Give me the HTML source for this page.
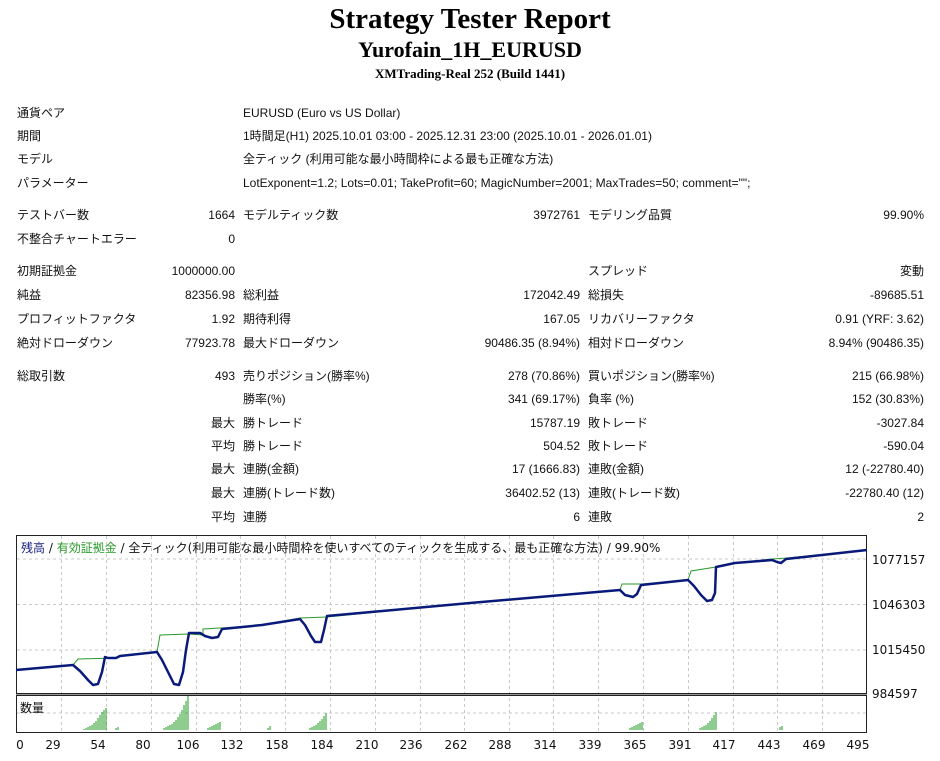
<!DOCTYPE html>
<html><head><meta charset="utf-8"><style>
html,body{margin:0;padding:0;background:#fff;width:940px;height:761px;overflow:hidden}
svg text{font-family:"Liberation Sans","Noto Sans CJK JP",sans-serif;font-size:12px;fill:#111}
.t{font-family:"Liberation Serif","Noto Serif CJK SC",serif;font-weight:bold;fill:#000}
.r{text-anchor:end}
.ax{font-family:"DejaVu Sans","Noto Sans CJK JP",sans-serif;font-size:12px}
</style></head><body>
<svg width="940" height="761" xmlns="http://www.w3.org/2000/svg">
<text class="t" x="470" y="28" text-anchor="middle" style="font-size:29px">Strategy Tester Report</text>
<text class="t" x="470" y="57" text-anchor="middle" style="font-size:22px">Yurofain_1H_EURUSD</text>
<text class="t" x="470" y="78" text-anchor="middle" style="font-size:13px">XMTrading-Real 252 (Build 1441)</text>

<g>
<text x="17" y="117">通貨ペア</text><text x="243" y="117">EURUSD (Euro vs US Dollar)</text>
<text x="17" y="140">期間</text><text x="243" y="140">1時間足(H1) 2025.10.01 03:00 - 2025.12.31 23:00 (2025.10.01 - 2026.01.01)</text>
<text x="17" y="163">モデル</text><text x="243" y="163">全ティック (利用可能な最小時間枠による最も正確な方法)</text>
<text x="17" y="187">パラメーター</text><text x="243" y="187">LotExponent=1.2; Lots=0.01; TakeProfit=60; MagicNumber=2001; MaxTrades=50; comment="";</text>

<text x="17" y="219">テストバー数</text><text class="r" x="235" y="219">1664</text><text x="243" y="219">モデルティック数</text><text class="r" x="580" y="219">3972761</text><text x="588" y="219">モデリング品質</text><text class="r" x="924" y="219">99.90%</text>
<text x="17" y="243">不整合チャートエラー</text><text class="r" x="235" y="243">0</text>

<text x="17" y="275">初期証拠金</text><text class="r" x="235" y="275">1000000.00</text><text x="588" y="275">スプレッド</text><text class="r" x="924" y="275">変動</text>
<text x="17" y="299">純益</text><text class="r" x="235" y="299">82356.98</text><text x="243" y="299">総利益</text><text class="r" x="580" y="299">172042.49</text><text x="588" y="299">総損失</text><text class="r" x="924" y="299">-89685.51</text>
<text x="17" y="323">プロフィットファクタ</text><text class="r" x="235" y="323">1.92</text><text x="243" y="323">期待利得</text><text class="r" x="580" y="323">167.05</text><text x="588" y="323">リカバリーファクタ</text><text class="r" x="924" y="323">0.91 (YRF: 3.62)</text>
<text x="17" y="347">絶対ドローダウン</text><text class="r" x="235" y="347">77923.78</text><text x="243" y="347">最大ドローダウン</text><text class="r" x="580" y="347">90486.35 (8.94%)</text><text x="588" y="347">相対ドローダウン</text><text class="r" x="924" y="347">8.94% (90486.35)</text>

<text x="17" y="380">総取引数</text><text class="r" x="235" y="380">493</text><text x="243" y="380">売りポジション(勝率%)</text><text class="r" x="580" y="380">278 (70.86%)</text><text x="588" y="380">買いポジション(勝率%)</text><text class="r" x="924" y="380">215 (66.98%)</text>
<text x="243" y="403">勝率(%)</text><text class="r" x="580" y="403">341 (69.17%)</text><text x="588" y="403">負率 (%)</text><text class="r" x="924" y="403">152 (30.83%)</text>
<text class="r" x="235" y="427">最大</text><text x="243" y="427">勝トレード</text><text class="r" x="580" y="427">15787.19</text><text x="588" y="427">敗トレード</text><text class="r" x="924" y="427">-3027.84</text>
<text class="r" x="235" y="450">平均</text><text x="243" y="450">勝トレード</text><text class="r" x="580" y="450">504.52</text><text x="588" y="450">敗トレード</text><text class="r" x="924" y="450">-590.04</text>
<text class="r" x="235" y="473">最大</text><text x="243" y="473">連勝(金額)</text><text class="r" x="580" y="473">17 (1666.83)</text><text x="588" y="473">連敗(金額)</text><text class="r" x="924" y="473">12 (-22780.40)</text>
<text class="r" x="235" y="497">最大</text><text x="243" y="497">連勝(トレード数)</text><text class="r" x="580" y="497">36402.52 (13)</text><text x="588" y="497">連敗(トレード数)</text><text class="r" x="924" y="497">-22780.40 (12)</text>
<text class="r" x="235" y="521">平均</text><text x="243" y="521">連勝</text><text class="r" x="580" y="521">6</text><text x="588" y="521">連敗</text><text class="r" x="924" y="521">2</text>
</g>

<!-- chart -->
<g stroke="#c8c8c8" stroke-dasharray="3,3" stroke-width="1">
<line x1="17" x2="866" y1="559" y2="559"/><line x1="17" x2="866" y1="604.5" y2="604.5"/><line x1="17" x2="866" y1="650" y2="650"/>
<line x1="17" x2="866" y1="713" y2="713"/>
<line x1="61.5" x2="61.5" y1="536" y2="732"/><line x1="106.5" x2="106.5" y1="536" y2="732"/><line x1="151.5" x2="151.5" y1="536" y2="732"/><line x1="196.5" x2="196.5" y1="536" y2="732"/><line x1="240.5" x2="240.5" y1="536" y2="732"/><line x1="285.5" x2="285.5" y1="536" y2="732"/><line x1="330.5" x2="330.5" y1="536" y2="732"/><line x1="375.5" x2="375.5" y1="536" y2="732"/><line x1="420.5" x2="420.5" y1="536" y2="732"/><line x1="464.5" x2="464.5" y1="536" y2="732"/><line x1="509.5" x2="509.5" y1="536" y2="732"/><line x1="553.5" x2="553.5" y1="536" y2="732"/><line x1="598.5" x2="598.5" y1="536" y2="732"/><line x1="643.5" x2="643.5" y1="536" y2="732"/><line x1="688.5" x2="688.5" y1="536" y2="732"/><line x1="733.5" x2="733.5" y1="536" y2="732"/><line x1="777.5" x2="777.5" y1="536" y2="732"/><line x1="822.5" x2="822.5" y1="536" y2="732"/>
</g>
<rect x="16.5" y="535.5" width="850" height="158" fill="none" stroke="#222" stroke-width="1"/>
<rect x="16.5" y="695.5" width="850" height="37" fill="none" stroke="#222" stroke-width="1"/>
<line x1="16" x2="867" y1="694.5" y2="694.5" stroke="#999"/>

<polyline fill="none" stroke="#2a9a2a" stroke-width="1" points="73,665 78,659 117,658 120,656 157,652 160,635 189,634 203,635 203,629 220,628 222,628 262,625 300,618 327,617 470,603 620,590 622,584 642,584 688,580 691,571 716,567 735,563 772,559 787,558 867,550"/>
<polyline fill="none" stroke="#0a1a7a" stroke-width="2.5" stroke-linejoin="round" points="16,670 73,665 80,671 88,680 93,685 98,684 102,672 105,657 108,658 116,658 120,656 157,652 162,660 168,672 174,684 179,685 183,672 186,650 189,633 200,633 205,636 212,638 218,637 222,629 262,625 300,619 305,625 311,636 315,642 321,642 324,630 327,616 470,603 620,590 625,595 633,597 637,594 641,585 688,580 694,586 701,595 707,601 712,600 715,593 716,567 735,563 772,560 777,562 781,563 786,559 867,550"/>

<g stroke="#1f9a1f" stroke-width="1">
<path d="M84,730v-1M86,730v-2M88,730v-3M90,730v-4M92,730v-5M94,730v-7M96,730v-9M98,730v-12M100,730v-15M102,730v-18M104,730v-20M106,730v-22
M116,730v-2M118,730v-3
M164,730v-2M166,730v-3M168,730v-4M170,730v-5M172,730v-6M174,730v-8M176,730v-10M178,730v-13M180,730v-16M182,730v-20M184,730v-25M186,730v-29M188,730v-34
M208,730v-2M210,730v-3M212,730v-4M214,730v-5M216,730v-6M218,730v-7M220,730v-8
M268,730v-2M270,730v-4
M310,730v-2M312,730v-3M314,730v-4M316,730v-5M318,730v-7M320,730v-9M322,730v-11M324,730v-14M326,730v-17
M630,730v-2M632,730v-3M634,730v-4M636,730v-5M638,730v-6M640,730v-7M642,730v-8
M700,730v-2M702,730v-3M704,730v-4M706,730v-5M708,730v-7M710,730v-9M712,730v-12M714,730v-15M716,730v-18
M780,730v-3M782,730v-4"/>
</g>

<text x="21" y="552" class="ax"><tspan style="fill:#1a237e">残高</tspan> / <tspan style="fill:#2a9a2a">有効証拠金</tspan> / 全ティック(利用可能な最小時間枠を使いすべてのティックを生成する、最も正確な方法) / 99.90%</text>
<text x="20" y="712" class="ax">数量</text>

<text x="872" y="564" class="ax">1077157</text>
<text x="872" y="609" class="ax">1046303</text>
<text x="872" y="654" class="ax">1015450</text>
<text x="872" y="698" class="ax">984597</text>

<text x="20" y="749" class="ax" text-anchor="middle">0</text>
<text x="53" y="749" class="ax" text-anchor="middle">29</text>
<text x="98" y="749" class="ax" text-anchor="middle">54</text>
<text x="143" y="749" class="ax" text-anchor="middle">80</text>
<text x="188" y="749" class="ax" text-anchor="middle">106</text>
<text x="232" y="749" class="ax" text-anchor="middle">132</text>
<text x="277" y="749" class="ax" text-anchor="middle">158</text>
<text x="322" y="749" class="ax" text-anchor="middle">184</text>
<text x="367" y="749" class="ax" text-anchor="middle">210</text>
<text x="411" y="749" class="ax" text-anchor="middle">236</text>
<text x="456" y="749" class="ax" text-anchor="middle">262</text>
<text x="500" y="749" class="ax" text-anchor="middle">288</text>
<text x="545" y="749" class="ax" text-anchor="middle">314</text>
<text x="590" y="749" class="ax" text-anchor="middle">339</text>
<text x="635" y="749" class="ax" text-anchor="middle">365</text>
<text x="680" y="749" class="ax" text-anchor="middle">391</text>
<text x="724" y="749" class="ax" text-anchor="middle">417</text>
<text x="769" y="749" class="ax" text-anchor="middle">443</text>
<text x="814" y="749" class="ax" text-anchor="middle">469</text>
<text x="858" y="749" class="ax" text-anchor="middle">495</text>
</svg>
</body></html>
